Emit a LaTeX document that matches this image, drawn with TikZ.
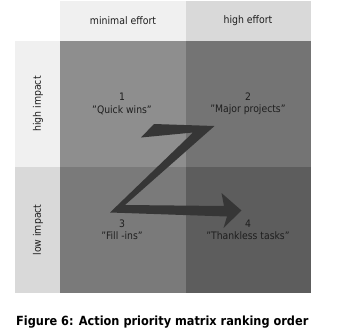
\documentclass[tikz,border=0pt]{standalone}
\usepackage{fontspec}
\setmainfont{DejaVu Sans Condensed}
\newfontfamily\capfont{DejaVu Sans Condensed Bold}
\newcommand{\dq}{\symbol{34}}
\definecolor{hdrA}{HTML}{F0F0F0}
\definecolor{hdrB}{HTML}{D9D9D9}
\definecolor{qone}{HTML}{8E8E8E}
\definecolor{qtwo}{HTML}{747474}
\definecolor{qthree}{HTML}{7A7A7A}
\definecolor{qfour}{HTML}{5D5D5D}
\definecolor{zcol}{HTML}{363636}
\definecolor{txt}{HTML}{1E1E1E}
\begin{document}
\begin{tikzpicture}[x=1pt,y=-1pt,
  lbl/.style={font=\fontsize{10.3}{12.3}\selectfont, text=txt, align=center, inner sep=0pt},
  hdr/.style={font=\fontsize{10.4}{12}\selectfont, text=txt, inner sep=0pt}]
\useasboundingbox (0,0) rectangle (354,330);
\fill[white] (0,0) rectangle (354,330);
% headers
\fill[hdrA] (60,1) rectangle (186,41);
\fill[hdrB] (186,1) rectangle (311,41);
\fill[hdrA] (15,41) rectangle (60,167);
\fill[hdrB] (15,167) rectangle (60,293);
% cells
\fill[qone] (60,41) rectangle (186,167);
\fill[qtwo] (186,41) rectangle (311,167);
\fill[qthree] (60,167) rectangle (186,293);
\fill[qfour] (186,167) rectangle (311,293);
% header labels
\node[hdr] (hmin) at (123,21) {minimal effort};
\node[hdr] (hhigh) at (248,21) {high effort};
\node[hdr, rotate=90] (vhigh) at (38,104) {high impact};
\node[hdr, rotate=90] (vlow) at (38,230) {low impact};
% Z arrow
\fill[zcol] (141,137.5) -- (154,124) -- (214.5,126) -- (125,205) -- (224,206)
  -- (221.5,193) -- (241.5,210.5) -- (223.5,228) -- (227,216.5) -- (110,212.5)
  -- (193,132.5) -- cycle;
% cell labels
\node[lbl] (c1) at (122,104) {1\\\dq Quick wins\dq};
\node[lbl] (c2) at (248,104) {2\\\dq Major projects\dq};
\node[lbl] (c3) at (122,230) {3\\\dq Fill -ins\dq};
\node[lbl] (c4) at (248,230) {4\\\dq Thankless tasks\dq};
% caption
\node[font=\capfont\fontsize{12.6}{14}\selectfont, text=black, anchor=base west, inner sep=0pt] (cap) at (16,325.5) {Figure 6: Action priority matrix ranking order};
\end{tikzpicture}
\end{document}
